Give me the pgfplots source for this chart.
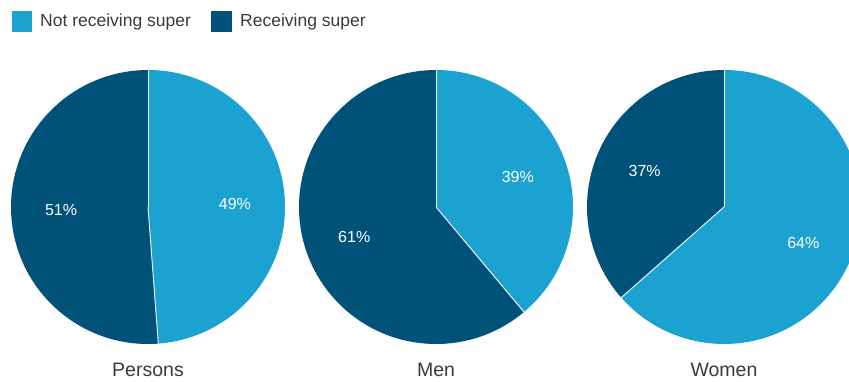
\documentclass[border=0pt]{standalone}
\usepackage{pgfplots}
\pgfplotsset{compat=1.18}
\usepackage{fontspec}
\setmainfont{Liberation Sans}
\definecolor{lightb}{HTML}{1BA2D0}
\definecolor{darkb}{HTML}{005279}
\definecolor{txt}{HTML}{3A3A3A}
% #1 cx, #2 cy (pixels from bottom), #3 not receiving share (%), #4 shown not receiving, #5 shown receiving, #6 name
\newcommand\pie[6]{%
  \fill[lightb] (axis cs:#1,#2) -- ++(90:137pt) arc[start angle=90, end angle={90-3.6*#3}, radius=137pt] -- cycle;
  \fill[darkb] (axis cs:#1,#2) -- ++({90-3.6*#3}:137pt) arc[start angle={90-3.6*#3}, end angle=-270, radius=137pt] -- cycle;
  \draw[white, line width=0.9pt] (axis cs:#1,#2) -- ++(90:137pt);
  \draw[white, line width=0.9pt] (axis cs:#1,#2) -- ++({90-3.6*#3}:137pt);
  \path (axis cs:#1,#2) ++({90-1.8*#3}:87pt) node[white, font=\fontsize{16}{18}\selectfont] {#4\%};
  \path (axis cs:#1,#2) ++({(90-3.6*#3-270)/2}:87pt) node[white, font=\fontsize{16}{18}\selectfont] {#5\%};
  \node[txt, font=\fontsize{19.5}{22}\selectfont, anchor=base] at (axis cs:#1,5) {#6};
}
\begin{document}
\begin{tikzpicture}
\begin{axis}[
  width=849pt, height=381pt, scale only axis,
  xmin=0, xmax=849, ymin=0, ymax=381,
  hide axis, clip=true,
]
\pie{148}{174}{48.8}{49}{51}{Persons}
\pie{436}{174}{38.9}{39}{61}{Men}
\pie{724}{174}{63.5}{64}{37}{Women}
% legend
\fill[lightb] (axis cs:12,349) rectangle (axis cs:32,370);
\node[txt, anchor=west, font=\fontsize{17.5}{20}\selectfont, inner sep=0pt] at (axis cs:40,359.5) {Not receiving super};
\fill[darkb] (axis cs:211,349) rectangle (axis cs:232,370);
\node[txt, anchor=west, font=\fontsize{17.5}{20}\selectfont, inner sep=0pt] at (axis cs:240,359.5) {Receiving super};
\end{axis}
\pgfresetboundingbox
\useasboundingbox (current axis.south west) rectangle (current axis.north east);
\end{tikzpicture}
\end{document}
